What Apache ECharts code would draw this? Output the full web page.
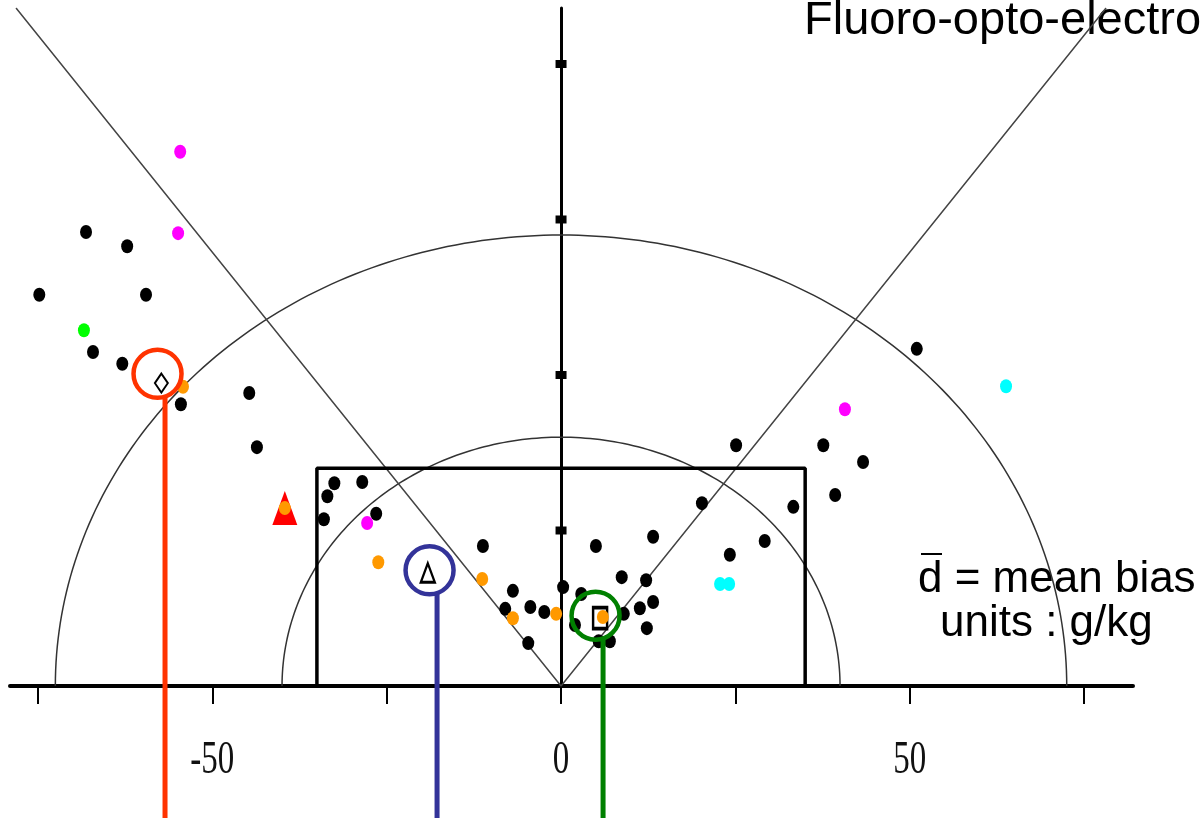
<!DOCTYPE html>
<html>
<head>
<meta charset="utf-8">
<script src="https://cdn.jsdelivr.net/npm/echarts@6/dist/echarts.min.js"></script>
<style>
  html, body { margin: 0; padding: 0; background: #ffffff; }
  #chart { width: 1204px; height: 818px; }
</style>
</head>
<body>
<div id="chart"></div>
<script>
// Laboratory results: mean bias (x, g/kg) against spread of differences (y, g/kg)

const blackPoints = [
  [-68.1, 73.0], [-62.2, 70.7], [-74.8, 62.9], [-59.5, 62.9], [-67.1, 53.7],
  [-62.9, 51.8], [-54.5, 45.3], [-44.7, 47.1], [-43.6, 38.4], [-32.5, 32.6],
  [-33.5, 30.5], [-28.5, 32.8], [-34.0, 26.8], [-26.5, 27.7], [-11.2, 22.5],
  [-6.9, 15.3], [-8.0, 12.4], [-4.4, 12.7], [-2.4, 11.9], [-4.7, 6.9],
  [0.3, 15.9], [2.9, 14.8], [2.0, 9.8], [5.0, 22.5], [8.7, 17.5],
  [12.2, 17.0], [13.2, 24.0], [9.0, 11.6], [11.3, 12.5], [13.2, 13.5],
  [12.3, 9.3], [5.4, 7.2], [7.0, 7.2], [20.2, 29.4], [25.1, 38.7],
  [24.2, 21.1], [29.2, 23.3], [33.3, 28.8], [37.6, 38.7], [43.3, 36.0],
  [39.3, 30.7], [51.0, 54.2]
];
const orangePoints = [
  [-54.2, 48.1], [-39.6, 28.6], [-26.2, 19.9], [-11.3, 17.2],
  [-6.9, 10.9], [-0.7, 11.6], [6.0, 11.1]
];
const magentaPoints = [[-54.6, 85.9], [-54.9, 72.8], [-27.8, 26.2], [40.7, 44.5]];
const greenPoints = [[-68.4, 57.2]];
const cyanPoints = [[22.8, 16.4], [24.1, 16.4], [63.8, 48.2]];

// open reference markers
const diamondPoints = [[-57.3, 48.7]];
const openTrianglePoints = [[-19.1, 18.2]];
const squarePoints = [[5.6, 10.9]];
const redTrianglePoints = [[-39.6, 28.6]];

// highlighted results: ring centre and colour
const calloutCenters = [[-57.85, 50.2], [-18.85, 18.6], [4.95, 11.3]];
const calloutColors = ['#FF3300', '#333399', '#008000'];

// reference geometry
const circleRadii = [40, 72.5];
const acceptBox = [35, 35];          // half-width, height
const limitSlope = 1.395;            // spread / |bias| of the V limits
const xTicks = [-75, -50, -25, 0, 25, 50, 75];
const xTickLabels = [-50, 0, 50];
const yTicks = [25, 50, 75, 100];

const X_MIN = -79, X_MAX = 82, Y_MAX = 109;

const ellipseDot = 'path://M0,7 A6,7 0 1,0 12,7 A6,7 0 1,0 0,7 Z';

function dots(name, data, color, z) {
  return {
    name, type: 'scatter', data, z: z || 5, silent: true,
    symbol: ellipseDot, symbolSize: [12, 14],
    itemStyle: { color, opacity: 1 }
  };
}

const chart = echarts.init(document.getElementById('chart'), null, { renderer: 'canvas' });

const option = {
  animation: false,
  backgroundColor: '#ffffff',
  grid: { left: 10, right: 71, top: 8, bottom: 132, containLabel: false },
  xAxis: {
    type: 'value', min: X_MIN, max: X_MAX,
    axisLine: { onZero: true, lineStyle: { color: '#000', width: 4 } },
    axisTick: { show: true, customValues: xTicks, length: 18, inside: false,
                lineStyle: { color: '#000', width: 2 } },
    axisLabel: { show: false },
    splitLine: { show: false }
  },
  yAxis: {
    type: 'value', min: 0, max: Y_MAX,
    axisLine: { show: true, onZero: true, lineStyle: { color: '#000', width: 3 } },
    axisTick: { show: false },
    axisLabel: { show: false },
    splitLine: { show: false }
  },
  graphic: [
    { type: 'text', x: 804, y: 21, z: 0,
      style: { text: 'Fluoro-opto-electro', font: '47px "Liberation Sans", Arial, sans-serif',
               fill: '#000', verticalAlign: 'middle', align: 'left' } },
    { type: 'text', x: 918, y: 580, z: 0,
      style: { text: 'd = mean bias', font: '44px "Liberation Sans", Arial, sans-serif',
               fill: '#000', verticalAlign: 'middle', align: 'left' } },
    { type: 'line', z: 0, shape: { x1: 921, y1: 554, x2: 942, y2: 554 },
      style: { stroke: '#000', lineWidth: 2 } },
    { type: 'text', x: 940, y: 624, z: 0,
      style: { text: 'units : g/kg', font: '44px "Liberation Sans", Arial, sans-serif',
               fill: '#000', verticalAlign: 'middle', align: 'left' } }
  ],
  series: [
    // half circles of constant total error
    {
      type: 'custom', silent: true, z: 1,
      data: circleRadii.map(r => [0, 0, r]),
      encode: { x: 0, y: 1 },
      renderItem(params, api) {
        const r = api.value(2);
        const pts = [];
        for (let a = 0; a <= 180; a += 1) {
          const t = a * Math.PI / 180;
          pts.push(api.coord([r * Math.cos(t), r * Math.sin(t)]));
        }
        return { type: 'polyline', shape: { points: pts },
                 style: { stroke: '#333333', lineWidth: 1.5, fill: null } };
      }
    },
    // V-shaped limits
    {
      type: 'line', silent: true, z: 1, symbol: 'none',
      data: [[-Y_MAX / limitSlope, Y_MAX], [0, 0], [Y_MAX / limitSlope, Y_MAX]],
      lineStyle: { color: '#444444', width: 1.5 }
    },
    // acceptance box
    {
      type: 'line', silent: true, z: 2, symbol: 'none',
      data: [[-acceptBox[0], 0], [-acceptBox[0], acceptBox[1]],
             [acceptBox[0], acceptBox[1]], [acceptBox[0], 0]],
      lineStyle: { color: '#000', width: 3.5 }
    },
    // tick marks on the spread axis
    {
      type: 'scatter', silent: true, z: 3, symbol: 'rect', symbolSize: [11, 8],
      data: yTicks.map(v => [0, v]), itemStyle: { color: '#000', opacity: 1 }
    },
    // bias tick labels
    {
      type: 'custom', silent: true, z: 3,
      data: xTickLabels.map(v => [v, 0]),
      encode: { x: 0, y: 1 },
      renderItem(params, api) {
        const p = api.coord([api.value(0), 0]);
        return { type: 'text', x: p[0], y: p[1] + 75, scaleY: 1.43,
                 style: { text: String(api.value(0)), font: '33px "Liberation Serif", "Times New Roman", serif',
                          fill: '#111', align: 'center', verticalAlign: 'middle' } };
      }
    },
    dots('black', blackPoints, '#000000'),
    dots('magenta', magentaPoints, '#FF00FF'),
    dots('green', greenPoints, '#00FF00'),
    dots('cyan', cyanPoints, '#00FFFF'),
    {
      type: 'scatter', silent: true, z: 6, symbol: 'diamond', symbolSize: [13, 19],
      data: diamondPoints, itemStyle: { color: '#fff', borderColor: '#000', borderWidth: 2, opacity: 1 }
    },
    {
      type: 'scatter', silent: true, z: 6, symbol: 'triangle', symbolSize: [14, 19],
      data: openTrianglePoints, itemStyle: { color: '#fff', borderColor: '#000', borderWidth: 2.5, opacity: 1 }
    },
    {
      type: 'scatter', silent: true, z: 6, symbol: 'rect', symbolSize: [14, 21],
      data: squarePoints, itemStyle: { color: '#fff', borderColor: '#000', borderWidth: 3, opacity: 1 }
    },
    {
      type: 'scatter', silent: true, z: 6, symbol: 'triangle', symbolSize: [25, 34],
      data: redTrianglePoints, itemStyle: { color: '#FF0000', opacity: 1 }
    },
    dots('orange', orangePoints, '#FF9900', 7),
    // highlighted results: ring plus drop line
    {
      type: 'custom', silent: true, z: 8,
      data: calloutCenters,
      encode: { x: 0, y: 1 },
      renderItem(params, api) {
        const c = api.coord([api.value(0), api.value(1)]);
        const color = calloutColors[params.dataIndex];
        const r = 24;
        return { type: 'group', children: [
          { type: 'circle', shape: { cx: c[0], cy: c[1], r },
            style: { fill: null, stroke: color, lineWidth: 4.5 } },
          { type: 'line', shape: { x1: c[0] + 7.5, y1: c[1] + r, x2: c[0] + 7.5, y2: api.getHeight() + 2 },
            style: { stroke: color, lineWidth: 5 } }
        ] };
      }
    }
  ]
};

chart.setOption(option);
</script>
</body>
</html>
